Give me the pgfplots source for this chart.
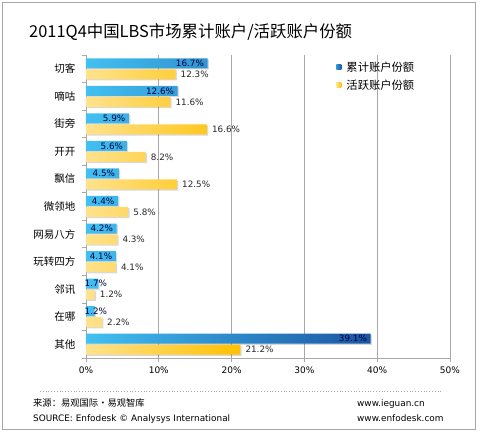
\documentclass[border=0pt]{standalone}
\usepackage{pgfplots}
\pgfplotsset{compat=1.18}
\usepackage{pgfplotstable}
\usepackage{fontspec}
\setmainfont{DejaVu Sans}
\newfontfamily\cjk{Noto Sans CJK SC}
\definecolor{bluel}{HTML}{42C0F2}
\definecolor{blued}{HTML}{1A55A2}
\definecolor{yell}{HTML}{FFE28C}
\definecolor{yeld}{HTML}{FFC000}
\definecolor{gridc}{HTML}{A8A8A8}
\pgfplotstableread{
y blue yellow bluelab
10 16.7 12.3 16.7
9 12.6 11.6 12.6
8 5.9 16.6 5.9
7 5.6 8.2 5.6
6 4.5 12.5 4.5
5 4.4 5.8 4.4
4 4.2 4.3 4.2
3 4.1 4.1 4.1
2 1.7 1.2 3.4
1 1.2 2.2 3.4
0 39.1 21.2 39.1
}\data
\begin{document}
\begin{tikzpicture}[x=1pt,y=1pt]
\useasboundingbox (0,0) rectangle (480,433);
\draw[color=gray!70, line width=1pt] (2.5,3.5) rectangle (475.5,430.5);
\node[anchor=base west, inner sep=0pt, font=\cjk\fontsize{16.4}{19}\selectfont] at (29,395.5) {2011Q4中国LBS市场累计账户/活跃账户份额};
\begin{axis}[
  at={(86pt,75pt)}, anchor=south west,
  scale only axis, width=364pt, height=303pt,
  xmin=0, xmax=50, ymin=-0.5, ymax=10.5,
  axis x line*=bottom, axis y line*=left,
  axis line style={gridc, line width=0.8pt},
  xtick={0,10,...,50},
  xticklabels={0\%,10\%,20\%,30\%,40\%,50\%},
  xmajorgrids, major grid style={gridc, line width=0.8pt},
  ytick={0,...,10},
  yticklabels={其他,在哪,邻讯,玩转四方,网易八方,微领地,飘信,开开,街旁,嘀咕,切客},
  minor ytick={-0.5,0.5,...,10.5},
  major tick length=4pt,
  minor tick length=4pt,
  tick align=outside,
  tick style={gridc, line width=0.8pt},
  major y tick style={draw=none},
  yticklabel style={font=\cjk\fontsize{10.5}{12}\selectfont, xshift=-3pt},
  xticklabel style={font=\fontsize{9}{11}\selectfont, yshift=-1pt},
  /pgf/number format/assume math mode=true,
  legend style={at={(0.687,0.985)}, anchor=north west, draw=none, fill=none,
    font=\cjk\fontsize{11.3}{13}\selectfont, row sep=3pt, inner sep=0pt,
    /tikz/every odd column/.append style={column sep=3pt}},
  legend cell align=left,
  clip=false,
]
\addplot[forget plot, xbar, bar width=10pt, bar shift=4.3pt, draw=none, fill=black, fill opacity=0.15, xshift=1.3pt]
  table[x=blue, y=y] {\data};
\addplot[forget plot, xbar, bar width=10pt, bar shift=-6.7pt, draw=none, fill=black, fill opacity=0.15, xshift=1.3pt]
  table[x=yellow, y=y] {\data};
\addplot[xbar, bar width=10pt, bar shift=5.5pt, draw=none, left color=bluel, right color=blued,
  legend image code/.code={\shade[left color=bluel!60!blued, right color=blued] (0pt,-2.6pt) rectangle (5.2pt,2.6pt);}]
  table[x=blue, y=y] {\data};
\addlegendentry{累计账户份额}
\addplot[xbar, bar width=10pt, bar shift=-5.5pt, draw=none, left color=yell, right color=yeld,
  legend image code/.code={\shade[left color=yell, right color=yeld] (0pt,-2.6pt) rectangle (5.2pt,2.6pt);}]
  table[x=yellow, y=y] {\data};
\addlegendentry{活跃账户份额}
\addplot[forget plot, only marks, mark=*, mark size=0pt, mark options={draw=none, fill=none},
  point meta=\thisrow{blue},
  nodes near coords={\pgfmathprintnumber[fixed,fixed zerofill,precision=1]{\pgfplotspointmeta}\%},
  every node near coord/.style={anchor=east, yshift=5.5pt, xshift=-1.5pt, inner sep=2pt,
    text=black!75!blue, font=\fontsize{8.8}{10}\selectfont}]
  table[x=bluelab, y=y] {\data};
\addplot[forget plot, only marks, mark=*, mark size=0pt, mark options={draw=none, fill=none},
  point meta=\thisrow{yellow},
  nodes near coords={\pgfmathprintnumber[fixed,fixed zerofill,precision=1]{\pgfplotspointmeta}\%},
  every node near coord/.style={anchor=west, yshift=-5.5pt, xshift=3pt, inner sep=2pt,
    text=black!85, font=\fontsize{8.8}{10}\selectfont}]
  table[x=yellow, y=y] {\data};
\end{axis}
\draw[gridc, line width=0.8pt, dotted] (40,42) -- (443,42);
\node[anchor=base west, inner sep=0pt, font=\cjk\fontsize{9.3}{11}\selectfont] at (33,26) {来源：易观国际·易观智库};
\node[anchor=base west, inner sep=0pt, font=\fontsize{8.9}{10}\selectfont] at (33,11) {SOURCE: Enfodesk © Analysys International};
\node[anchor=base west, inner sep=0pt, font=\fontsize{8.9}{10}\selectfont] at (357,26) {www.ieguan.cn};
\node[anchor=base west, inner sep=0pt, font=\fontsize{8.9}{10}\selectfont] at (357,11) {www.enfodesk.com};
\end{tikzpicture}
\end{document}
